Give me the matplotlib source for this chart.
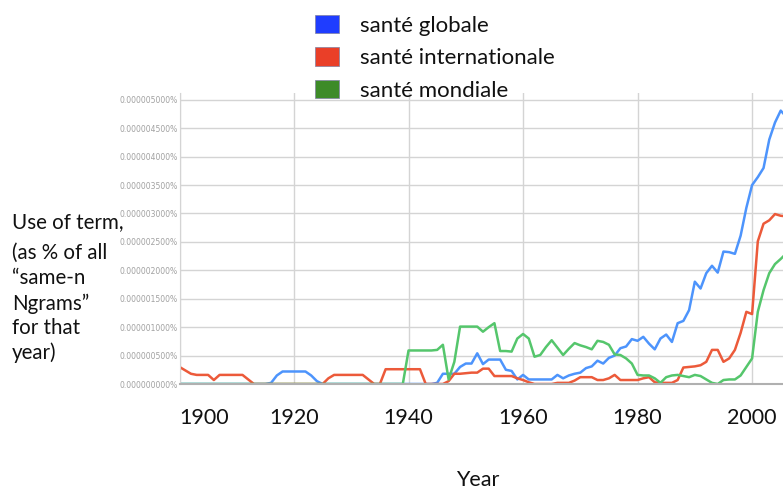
import numpy as np
import matplotlib.pyplot as plt
from matplotlib.patches import Patch

# years 1900-2006, values in units of 1e-6 %
years = list(range(1900, 2007))

globale = [0]*16 + [0.02, 0.15, 0.22, 0.22, 0.22, 0.22, 0.22, 0.15, 0.05] + [0]*20 + [
    0.02, 0.18, 0.18, 0.18, 0.30, 0.36, 0.36, 0.54, 0.35, 0.43,
    0.43, 0.43, 0.25, 0.23, 0.08, 0.16, 0.08, 0.08, 0.08, 0.08,
    0.08, 0.16, 0.10, 0.15, 0.18, 0.20, 0.28, 0.31, 0.41, 0.36,
    0.46, 0.50, 0.63, 0.66, 0.79, 0.76, 0.83, 0.71, 0.61, 0.80,
    0.87, 0.74, 1.07, 1.11, 1.30, 1.80, 1.68, 1.95, 2.08, 1.96,
    2.33, 2.32, 2.29, 2.61, 3.10, 3.50, 3.64, 3.80, 4.30, 4.60,
    4.81, 4.70]

internationale = [0.30, 0.24, 0.18, 0.16, 0.16, 0.16, 0.07, 0.16, 0.16, 0.16,
    0.16, 0.16, 0.08] + [0]*13 + [0.10, 0.16, 0.16, 0.16, 0.16, 0.16, 0.16,
    0.08, 0, 0, 0.26, 0.26, 0.26, 0.26, 0.26, 0.26, 0.26, 0, 0, 0, 0,
    0.05, 0.18, 0.18, 0.19, 0.20, 0.20, 0.27, 0.27, 0.14, 0.14, 0.14,
    0.14, 0.10, 0.07, 0.03, 0, 0, 0, 0, 0.02, 0.02, 0.02, 0.06, 0.12,
    0.12, 0.12, 0.07, 0.07, 0.10, 0.16, 0.07, 0.07, 0.07, 0.07, 0.10,
    0.12, 0.03, 0.02, 0.02, 0.02, 0.07, 0.29, 0.30, 0.31, 0.33, 0.39,
    0.60, 0.60, 0.39, 0.45, 0.60, 0.90, 1.27, 1.23, 2.51, 2.82, 2.88,
    2.99, 2.96, 2.95]

mondiale = [0]*40 + [0.59, 0.59, 0.59, 0.59, 0.59, 0.60, 0.69, 0.08, 0.39,
    1.01, 1.01, 1.01, 1.01, 0.92, 1.00, 1.07, 0.58, 0.58, 0.57, 0.80,
    0.88, 0.80, 0.48, 0.51, 0.65, 0.77, 0.64, 0.51, 0.62, 0.72, 0.68,
    0.65, 0.61, 0.76, 0.74, 0.69, 0.52, 0.51, 0.45, 0.36, 0.16, 0.15,
    0.15, 0.10, 0.02, 0.12, 0.15, 0.16, 0.14, 0.12, 0.16, 0.14, 0.08,
    0.02, 0.00, 0.07, 0.08, 0.08, 0.15, 0.30, 0.45, 1.27, 1.65, 1.95,
    2.11, 2.20, 2.30]

labels = ['santé globale', 'santé internationale', 'santé mondiale']
line_colors = ['#4d94fc', '#ec5a3a', '#55c66c']
box_colors = ['#1f3dff', '#ea3f28', '#3d8b28']
x_ticks = [1900, 1920, 1940, 1960, 1980, 2000]
y_ticks = np.arange(0, 5.01, 0.5)

plt.rcParams['font.family'] = ['Lato', 'DejaVu Sans']

fig = plt.figure(figsize=(7.83, 4.92), dpi=100)
ax = fig.add_axes([179.5/783, 108/492, 1 - 179.5/783, 291/492])

for series, c in zip([globale, internationale, mondiale], line_colors):
    ax.plot(years, series, color=c, lw=1.8, solid_joinstyle='round')

ax.set_xlim(1900, 2005.4)
ax.set_ylim(0, 5.12)
ax.set_xticks(x_ticks)
ax.set_xticklabels([str(y) for y in x_ticks], fontsize=15.5, color='#111111')
ax.get_xticklabels()[0].set_horizontalalignment('left')
ax.set_yticks(y_ticks)
ax.set_yticklabels([f"{v*1e-6:.9f}%" for v in y_ticks], fontsize=5.5,
                   color='#a0a0a0', family='DejaVu Sans')
ax.tick_params(axis='both', length=0)
ax.tick_params(axis='x', pad=17)
ax.tick_params(axis='y', pad=1)
ax.grid(True, color='#d4d4d4', lw=1)
ax.set_axisbelow(True)
for s in ['top', 'right']:
    ax.spines[s].set_visible(False)
ax.spines['left'].set_color('#d4d4d4')
ax.spines['bottom'].set_color('#b0b0b0')
ax.spines['bottom'].set_linewidth(1.5)

# y label block, drawn over the tick labels like in the original
ylab = ['Use of term,', '(as % of all', '“same-n', 'Ngrams”', 'for that', 'year)']
ybase = [228, 259, 284, 310, 334, 359]
for t, yb in zip(ylab, ybase):
    fig.text(12/783, 1 - yb/492, t, fontsize=14.8, va='baseline', ha='left',
             color='#111111')

fig.text(478/783, 1 - 480/492, 'Year', fontsize=15.5, ha='center', va='center',
         color='#111111')

handles = [Patch(facecolor=c, edgecolor='#8080a0', lw=0.5) for c in box_colors]
fig.legend(handles, labels, loc='upper left', bbox_to_anchor=(297/783, 1 + 3/492),
           frameon=False, fontsize=16, handlelength=1.08, handleheight=0.9,
           handletextpad=0.95, labelspacing=0.52, borderpad=0.3,
           labelcolor='#111111')

fig.savefig('out.png', dpi=100)
